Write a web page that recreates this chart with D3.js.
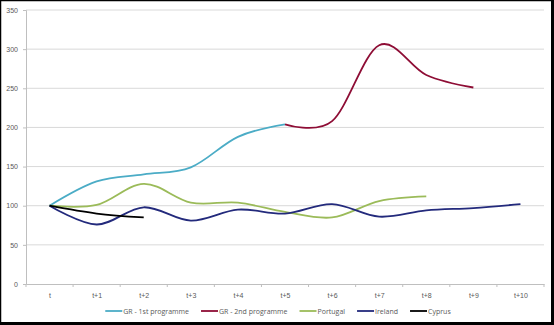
<!DOCTYPE html>
<html><head><meta charset="utf-8">
<script src="https://cdn.jsdelivr.net/npm/d3@7"></script>
<style>
html,body{margin:0;padding:0;background:#fff;}
svg{display:block;font-family:"Open Sans","DejaVu Sans",sans-serif;}
</style></head>
<body>
<svg id="chart" width="554" height="325"></svg>
<script>
const categories = ["t","t+1","t+2","t+3","t+4","t+5","t+6","t+7","t+8","t+9","t+10"];
const yTicks = [0,50,100,150,200,250,300,350];
const gr1 = [100,131,140,149,188,204];
const gr2 = [null,null,null,null,null,204,208,305,267,251];
const portugal = [100,101,128,104,104,92,85,106,112];
const ireland = [100,76,98,81,95,90,102,86,94,97,102];
const cyprus = [100,90,85];
const seriesNames = ["GR - 1st programme","GR - 2nd programme","Portugal","Ireland","Cyprus"];
const seriesColors = ["#4bacc6","#8e0d35","#9bbb59","#232a7c","#000000"];
const seriesData = [gr1, gr2, portugal, ireland, cyprus];

(function(){
const svg = d3.select("#chart");
const W = 554, H = 325;
const pLeft = 26, pRight = 544, pTop = 10, pBottom = 284;

const xBand = d3.scaleBand().domain(categories).range([pLeft, pRight]);
const x = d3.scalePoint().domain(categories).range([pLeft, pRight]).padding(0.5);
const y = d3.scaleLinear().domain([0,350]).range([pBottom, pTop]);

// gridlines
svg.append("g").selectAll("line").data(yTicks.filter(d=>d>0)).join("line")
  .attr("x1", pLeft).attr("x2", pRight)
  .attr("y1", d=>y(d)).attr("y2", d=>y(d))
  .attr("stroke", "#d9d9d9").attr("stroke-width", 1);

// y axis
const yAxis = svg.append("g").attr("transform", `translate(${pLeft},0)`)
  .call(d3.axisLeft(y).tickValues(yTicks).tickSize(3).tickPadding(5));
yAxis.select(".domain").attr("stroke", "#bfbfbf");
yAxis.selectAll(".tick line").attr("stroke", "#bfbfbf");
yAxis.selectAll("text").attr("fill", "#595959").style("font-size", "7px");

// x axis
const xAxis = svg.append("g").attr("transform", `translate(0,${pBottom})`)
  .call(d3.axisBottom(x).tickSize(0).tickPadding(9));
xAxis.select(".domain").attr("stroke", "#bfbfbf");
xAxis.selectAll("text").attr("fill", "#595959").style("font-size", "7px");
const bounds = categories.map(c => xBand(c)).concat([pRight]);
svg.append("g").selectAll("line").data(bounds).join("line")
  .attr("x1", d=>d).attr("x2", d=>d)
  .attr("y1", pBottom).attr("y2", pBottom+3)
  .attr("stroke", "#bfbfbf");

// lines
const line = d3.line()
  .defined(d => d.v !== null)
  .x(d => x(d.c)).y(d => y(d.v))
  .curve(d3.curveCatmullRom.alpha(0));

seriesData.forEach((arr, i) => {
  const pts = arr.map((v, j) => ({c: categories[j], v: v}));
  svg.append("path").datum(pts)
    .attr("d", line)
    .attr("fill", "none")
    .attr("stroke", seriesColors[i])
    .attr("stroke-width", 1.8)
    .attr("stroke-linejoin", "round");
});

// legend
const lg = svg.append("g");
let cx = 0;
seriesNames.forEach((n, i) => {
  const g = lg.append("g");
  g.append("line").attr("x1", 0).attr("x2", 17).attr("y1", 0).attr("y2", 0)
    .attr("stroke", seriesColors[i]).attr("stroke-width", 1.8);
  const t = g.append("text").attr("x", 18).attr("y", 2.5)
    .attr("fill", "#595959").style("font-size", "7px").text(n);
  const w = 18 + t.node().getComputedTextLength();
  g.attr("transform", `translate(${cx},311)`);
  cx += w + 12;
});
const totalW = cx - 12;
lg.attr("transform", `translate(${278 - totalW/2},0)`);

// outer border
svg.append("rect").attr("x", 0.5).attr("y", 0.5).attr("width", W-2.5).attr("height", H-2.5)
  .attr("fill", "none").attr("stroke", "#000").attr("stroke-width", 1.5);
svg.append("line").attr("x1", 0).attr("x2", W).attr("y1", H-1.5).attr("y2", H-1.5)
  .attr("stroke", "#000").attr("stroke-width", 3);
svg.append("line").attr("x1", W-1.5).attr("x2", W-1.5).attr("y1", 0).attr("y2", H)
  .attr("stroke", "#000").attr("stroke-width", 3);
})();
</script>
</body></html>
